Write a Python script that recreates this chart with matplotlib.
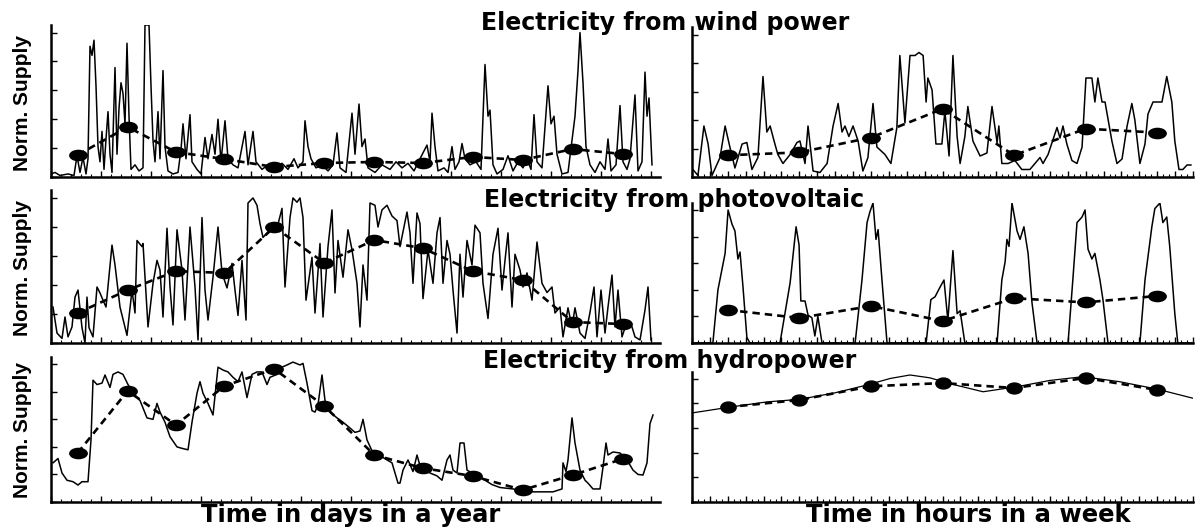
import numpy as np
import matplotlib.pyplot as plt
from matplotlib.path import Path
from matplotlib.transforms import Affine2D
from matplotlib.ticker import MultipleLocator

W, H = 1195, 527

# averaging points: mid-month days and mid-day hours
month_day = [16, 46, 75, 104, 134, 164, 194, 223, 253, 283, 313, 343]
week_hour = [12, 36, 60, 84, 108, 132, 156]

# ---- wind ----
wind_day = [0, 2.4, 5.4, 10.2, 13.8, 15.6, 17.4, 19.2, 21, 22.2, 23.4, 24.6, 25.8, 27, 28.2, 29.4,
            30.6, 31.8, 33, 34.2, 35.4, 36.6, 38.4, 39.6, 40.8, 42, 43.2, 44.4, 45.6, 46.8, 48, 50.4,
            52.8, 55.2, 56.4, 58.8, 60, 61.2, 62.4, 64.2, 65.4, 67.2, 68.4, 70.2, 73.2, 76.2, 78,
            79.2, 81, 83.4, 84.6, 87.6, 90, 92.4, 94.2, 96.6, 98.4, 100.2, 102, 104.4, 106.2, 109.2,
            112.2, 116.4, 118.2, 121.2, 123, 126.6, 130.2, 134.4, 138.6, 142.2, 145.8, 148.2, 151.2,
            152.4, 154.2, 156, 159, 162.6, 166.2, 169.2, 171.6, 173.4, 177, 180.6, 182.4, 184.8,
            186.6, 188.4, 190.2, 194.4, 198.6, 203.4, 207, 210.6, 214.2, 217.8, 221.4, 225.6, 227.4,
            228.6, 230.4, 232.2, 235.8, 238.2, 240.6, 242.4, 244.8, 246.6, 248.4, 251.4, 255, 258,
            260.4, 262.2, 263.4, 265.2, 267.6, 271.2, 274.2, 277.2, 280.2, 283.2, 285.6, 288, 289.8,
            291.6, 294.6, 298.2, 300, 301.8, 303.6, 306.6, 310.2, 314.4, 316.2, 317.4, 319.2, 321,
            323.4, 326.4, 329.4, 332.4, 334.2, 336, 339, 341.4, 343.2, 345.6, 347.4, 350.4, 352.2,
            354.6, 356.4, 357.6, 358.8, 360.6]
wind_year = [2, 3, 1, 2, 1, 14, 3, 13, 2, 12, 86, 80, 90, 60, 20, 10,
             30, 5, 25, 43, 15, 3, 72, 15, 45, 62, 55, 35, 88, 40, 5, 8,
             4, 6, 100, 100, 60, 24, 10, 43, 12, 70, 20, 4, 2, 3, 18,
             35, 12, 41, 10, 5, 2, 26, 12, 28, 15, 38, 10, 37, 12, 8,
             6, 30, 8, 30, 10, 5, 8, 4, 9, 5, 12, 6, 10,
             37, 20, 12, 6, 8, 4, 8, 29, 6, 3, 42, 15, 48,
             20, 25, 6, 3, 8, 5, 10, 6, 9, 4, 12, 21, 10,
             42, 20, 4, 6, 3, 20, 5, 10, 22, 12, 8, 10, 5,
             74, 40, 44, 8, 2, 5, 14, 4, 10, 6, 12, 5, 41,
             10, 6, 60, 35, 40, 15, 2, 3, 40, 70, 95, 62, 20,
             8, 3, 10, 5, 25, 4, 8, 47, 10, 5, 12, 54, 4,
             10, 69, 40, 52, 8]
wind_month = [14.5, 32.9, 16.4, 11.8, 6.6, 9.2, 9.9, 9.2, 13.2, 11.2, 18.4, 15.1]

wind_hour = [0.3, 2.0, 4.0, 5.4, 6.7, 9.4, 11.1, 12.7, 14.4, 16.8, 18.4, 20.1, 22.1, 23.8, 25.1,
             26.2, 27.8, 28.8, 30.5, 32.9, 35.2, 36.2, 37.9, 38.9, 40.6, 42.9, 45.3, 47.3, 49.0,
             50.3, 51.3, 52.6, 54.0, 55.7, 57.3, 59.0, 60.7, 62.0, 64.7, 66.7, 68.7, 69.7, 71.4,
             73.1, 74.8, 76.1, 77.5, 78.5, 79.1, 80.5, 81.8, 83.8, 84.8, 86.2, 87.5, 88.9, 89.9,
             91.5, 92.5, 94.2, 96.6, 98.9, 100.6, 102.3, 102.9, 103.9, 106, 108.3, 110.6, 113.3,
             115, 116.7, 117.7, 119.4, 122.4, 123.4, 124.4, 125.7, 127.4, 129.1, 130.8, 132.1,
             134.1, 135.1, 136.1, 137.5, 138.5, 140.8, 142.5, 144.2, 145.9, 147.5, 148.5, 150.2,
             151.9, 152.9, 154.6, 157.6, 159.2, 160.9, 161.9, 163.3, 164.6, 166, 167.3]
wind_week = [5, 1, 34, 22, 1, 13, 34, 20, 6, 22, 23, 5, 13, 67, 30,
             34, 22, 15, 9, 15, 23, 24, 9, 34, 4, 3, 9, 34, 49,
             30, 34, 27, 34, 24, 4, 13, 49, 20, 15, 9, 33, 81, 36,
             81, 81, 83, 81, 50, 66, 58, 22, 22, 44, 14, 81, 27, 9,
             27, 47, 24, 14, 16, 47, 23, 34, 9, 9, 11, 5, 5,
             9, 13, 9, 15, 33, 26, 34, 22, 11, 9, 20, 66,
             66, 50, 66, 50, 50, 24, 9, 12, 34, 49, 38, 9,
             22, 42, 50, 50, 67, 50, 24, 5, 5, 8, 8]
wind_daily = [14.5, 16.4, 26.3, 45.4, 14.5, 32.2, 29.6]

# ---- photovoltaic ----
pv_day = [1.2, 3.6, 6.6, 8.4, 10.2, 12.6, 14.4, 16.2, 18.6, 20.4, 21.6, 22.8, 25.2, 27.6, 29.4,
          31.2, 33, 36.6, 38.4, 41.4, 45.6, 48.6, 50.4, 51.6, 54.6, 55.2, 58.2, 61.2, 63.6, 65.4,
          67.2, 69.6, 71.4, 73.2, 75.6, 78.6, 80.4, 83.4, 86.4, 88.2, 90.6, 92.4, 94.2, 97.2,
          100.2, 102.6, 105.6, 108.6, 110.4, 112.2, 114.6, 117, 118.2, 121.2, 123.6, 125.4, 127.2,
          131.4, 135.6, 138.6, 140.4, 143.4, 145.2, 147.6, 149.4, 151.2, 153, 156.6, 158.4, 161.4,
          163.2, 166.2, 168.6, 170.4, 172.2, 175.2, 178.2, 180.6, 183.6, 185.4, 187.2, 189.6,
          191.4, 194.4, 196.2, 198.6, 201.6, 204.6, 207.6, 209.4, 213.6, 215.4, 217.2, 219.6,
          221.4, 223.2, 226.2, 229.2, 231.6, 233.4, 235.2, 237.6, 239.4, 241.2, 243.6, 245.4,
          247.2, 249.6, 252.6, 254.4, 257.4, 259.2, 262.2, 265.2, 268.2, 270.6, 272.4, 274.2,
          276.6, 278.4, 281.4, 283.2, 285.6, 288.6, 291.6, 294.6, 297.6, 300.6, 302.4, 305.4,
          307.2, 310.2, 312.6, 314.4, 317.4, 320.4, 323.4, 325.8, 327.6, 330, 332.4, 334.2, 336.6,
          338.4, 340.2, 342.6, 345.6, 348.6, 350.4, 353.4, 356.4, 358.2, 360]
pv_year = [23.5, 6.5, 3, 17, 4, 10.5, 30, 34.6, 10, 0, 30, 10, 4, 36.6, 32.7,
           28, 23.5, 64, 51, 23.5, 5, 34.6, 19.6, 67, 63, 65, 10.5, 39, 54, 47.7,
           17, 75, 36.6, 11.8, 74, 47.7, 15, 75.8, 36.6, 2, 82, 34.6, 15, 43,
           75.8, 45.8, 36, 52, 34.6, 18, 54, 15, 91.5, 94.8, 90, 78, 69,
           74, 75, 88, 36.6, 82, 94.8, 92, 94.8, 82, 28, 56, 19.6, 65,
           17, 63, 87, 32.7, 67, 43, 74, 61, 39, 10.5, 51, 28,
           91.5, 90, 75.8, 87, 90, 83, 80, 63, 85.6, 72, 39, 85,
           78, 29, 61, 39, 72, 82, 39, 67, 58, 34.6, 6.5, 58,
           30, 67, 51, 77, 72, 39, 16, 58, 75, 34.6, 54, 72,
           23.5, 58, 47.7, 36.6, 45.8, 28, 66, 39, 33, 36.6, 19.6, 23.5,
           4, 23, 10.5, 23, 6.5, 3, 20, 36.6, 4, 34.6, 6.5, 23.5, 44.4,
           10.5, 34.6, 4, 14, 10.5, 4, 2, 21.6, 36.6, 2]
pv_month = [19.6, 34.6, 47, 45.8, 75.8, 52.3, 67.3, 62, 47, 41.2, 13.7, 12.4]

pv_hour = [0, 7.0, 8.7, 11.1, 12.1, 13.4, 14.4, 15.4, 16.1, 17.1, 18.4, 19.4,
           29.5, 32.9, 34.9, 35.9, 36.5, 37.9, 38.9, 40.2, 41.2, 42.2, 43.6,
           54.7, 57.0, 58.7, 59.7, 60.7, 61.7, 62.4, 63.7, 65.4,
           78.5, 80.1, 81.5, 83.2, 84.5, 85.8, 87.5, 88.9, 89.9, 91.5,
           102.3, 103.9, 105, 105.6, 106.3, 107.3, 109, 110, 111.3, 112.7, 114, 115.7,
           126.1, 127.7, 129.1, 130.8, 131.8, 132.8, 134.1, 135.1, 136.8, 137.8, 139.5,
           150.2, 151.9, 154.2, 155.2, 156.9, 157.9, 159.2, 160.2, 161.9, 162.9, 168]
pv_week = [0, 0, 38, 64, 95, 85, 80, 60, 65, 40, 4, 0,
           0, 43, 83, 70, 30, 30, 20, 18, 5, 19, 0,
           0, 45, 86, 94, 100, 74, 81, 45, 0,
           0, 31, 33, 40, 45, 16, 66, 21, 23, 0,
           0, 45, 58, 74, 69, 100, 80, 74, 83, 64, 29, 0,
           0, 45, 86, 90, 95, 67, 60, 64, 45, 31, 0,
           0, 45, 83, 96, 100, 86, 90, 69, 21, 0, 0]
pv_daily = [23.6, 17.9, 26.4, 15.7, 32, 29, 33.6]

# ---- hydropower ----
hydro_day = [1.2, 4.2, 6.6, 9.6, 13.2, 16.2, 18.6, 22.2, 24, 25.2, 27.6, 30.6, 32.4, 35.4, 37.2,
             40.2, 43.2, 46.2, 49.2, 53.4, 57.6, 61.2, 63.6, 65.4, 68.4, 71.4, 75.6, 78.6, 82.2,
             84.6, 87.6, 89.4, 91.2, 94.2, 97.2, 100.2, 103.2, 106.2, 109.2, 112.2, 114.6, 117.6,
             120.6, 123.6, 126.6, 129.6, 131.4, 135.6, 138.6, 141.6, 145.2, 149.4, 151.2, 153.6,
             156.6, 158.4, 160.2, 162.6, 164.4, 167.4, 171.6, 175.2, 179.4, 182.4, 185.4, 187.2,
             189.6, 193.2, 197.4, 201.6, 204.6, 208.2, 209.4, 211.2, 214.2, 217.2, 219.6, 221.4,
             224.4, 227.4, 231.6, 234.6, 237.6, 239.4, 241.2, 243.6, 245.4, 247.8, 249.6, 252.6,
             256.2, 260.4, 264.6, 269.4, 277.2, 285.6, 293.4, 301.2, 306.6, 307.2, 309, 310.2,
             312.6, 314.4, 317.4, 320.4, 322.2, 325.2, 329.4, 331.2, 333, 334.2, 337.2, 341.4,
             345.6, 349.2, 352.2, 355.2, 357.6, 359.4, 361.2]
hydro_year = [27, 30, 20, 15, 14, 11.7, 14, 14, 42.8, 84, 81, 82, 87.6, 79, 88,
              89.7, 88, 81, 75, 70, 58, 57, 68, 62, 55, 45, 38, 37, 36,
              55, 75, 83, 75, 68, 60, 93, 91, 89.7, 86, 83, 89.7, 72,
              88, 89.7, 89.7, 81, 86, 88, 93, 94.5, 96.5, 94.5, 95.6, 82,
              63, 62, 67, 87.6, 70, 62, 58, 55, 51, 48, 49, 57,
              42.8, 33.8, 32, 29, 27, 13, 13, 22, 29, 21, 32.4, 25,
              24, 20, 18, 15, 29, 32.4, 22, 20, 40.7, 40.7, 22, 20,
              18, 15, 12, 10, 9, 7, 7, 7, 9, 27, 21, 29,
              58, 40.7, 22, 15, 13, 9, 9, 24, 40.7, 32.4, 34.5, 33.8,
              29, 22, 19, 18.6, 27, 54, 60]
hydro_month = [33.8, 76.6, 53.1, 80, 91.7, 66.2, 32.4, 23.4, 17.9, 8.3, 18.6, 29.7]

hydro_hour = [0, 12.7, 25.1, 36.2, 48, 58.7, 66.4, 73.1, 79.8, 86.5, 97.6, 109, 120, 131.1,
              143.5, 156.2, 168]
hydro_week = [68.5, 73, 77, 79, 84, 90, 95, 97.7, 95.5, 91, 84.8, 88.7, 93.5, 96.4,
              92.5, 86.7, 79.8]
hydro_daily = [73, 78.5, 89, 91.5, 87.7, 95.4, 86.2]


def ellipse(ratio):
    return Path.unit_circle().transformed(Affine2D().scale(ratio, 1.0))


def add_panel(fig, box, x, y, xa, ya, xmax, major, minor, ms=12.5, ratio=1.7, lw=1.1):
    # box is (left, top, right, bottom) in pixels
    l, t, r, b = box
    ax = fig.add_axes([l / W, 1 - b / H, (r - l) / W, (b - t) / H])
    ax.plot(x, y, color='black', lw=lw, zorder=2)
    ax.plot(xa, ya, color='black', lw=1.9, dashes=(2.8, 1.9), zorder=3,
            marker=ellipse(ratio), markersize=ms, markerfacecolor='black',
            markeredgecolor='black')
    ax.set_xlim(0, xmax)
    ax.set_ylim(0, 100)
    ax.spines[['top', 'right']].set_visible(False)
    ax.spines[['left', 'bottom']].set_linewidth(1.8)
    ax.xaxis.set_major_locator(MultipleLocator(major))
    ax.xaxis.set_minor_locator(MultipleLocator(minor))
    ax.yaxis.set_major_locator(MultipleLocator(19))
    ax.tick_params(direction='in', length=4, width=1, labelleft=False, labelbottom=False)
    ax.tick_params(which='minor', direction='in', length=2, width=0.8)
    ax.set_facecolor('none')
    return ax


fig = plt.figure(figsize=(W / 100, H / 100), dpi=100)

add_panel(fig, (51, 25, 660, 177), wind_day, wind_year, month_day, wind_month, 365.4, 30, 6)
add_panel(fig, (692, 27, 1193, 177), wind_hour, wind_week, week_hour, wind_daily, 168, 6, 2)
add_panel(fig, (51, 190, 660, 343), pv_day, pv_year, month_day, pv_month, 365.4, 30, 6)
add_panel(fig, (692, 203, 1193, 343), pv_hour, pv_week, week_hour, pv_daily, 168, 6, 2)
add_panel(fig, (51, 357, 660, 502), hydro_day, hydro_year, month_day, hydro_month, 365.4, 30, 6)
add_panel(fig, (692, 372, 1193, 502), hydro_hour, hydro_week, week_hour, hydro_daily, 168, 6, 2,
          ms=11, ratio=1.4, lw=0.9)

title_kw = dict(fontsize=17, fontweight='bold', family='DejaVu Sans', ha='center', va='baseline')
fig.text(665 / W, 1 - 30 / H, 'Electricity from wind power', **title_kw)
fig.text(674 / W, 1 - 207 / H, 'Electricity from photovoltaic', **title_kw)
fig.text(670 / W, 1 - 368 / H, 'Electricity from hydropower', **title_kw)

xlab_kw = dict(fontsize=17.5, fontweight='bold', family='DejaVu Sans', ha='center', va='baseline')
fig.text(351 / W, 1 - 522 / H, 'Time in days in a year', **xlab_kw)
fig.text(968 / W, 1 - 522 / H, 'Time in hours in a week', **xlab_kw)

ylab_kw = dict(fontsize=15, fontweight='bold', rotation=90, ha='center', va='center',
               family=['Liberation Sans Narrow', 'Liberation Sans'])
for yc in (103, 268, 430):
    fig.text(23 / W, 1 - yc / H, 'Norm. Supply', **ylab_kw)

fig.savefig('out.png', dpi=100)
